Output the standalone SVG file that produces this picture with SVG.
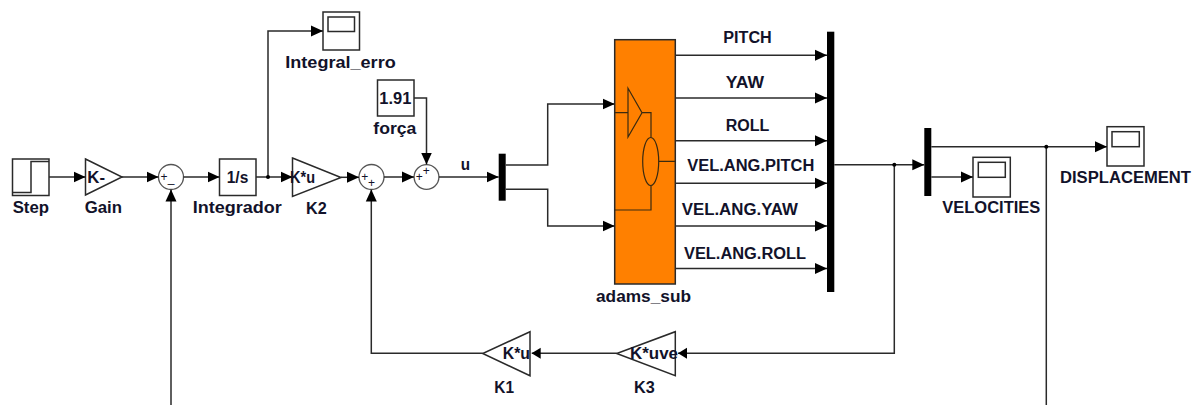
<svg xmlns="http://www.w3.org/2000/svg" width="1197" height="405" viewBox="0 0 1197 405">
<style>
text{font-family:"Liberation Sans",Arial,sans-serif;font-weight:700;font-size:16px;fill:#12122a}
.b{fill:#fff;stroke:#2a2a2a;stroke-width:1.5}
.n{fill:none;stroke:#2a2a2a;stroke-width:1.5}
.bar{fill:#000;stroke:none}
.c{fill:#fff;stroke:#555;stroke-width:1.3}
.w{fill:none;stroke:#2a2a2a;stroke-width:1.5;marker-end:url(#a)}
.wp{fill:none;stroke:#2a2a2a;stroke-width:1.5}
.ws{fill:none;stroke:#2a2a2a;stroke-width:1.5;marker-end:url(#s)}
.o{fill:#ff8000;stroke:#2a2a2a;stroke-width:1.5}
.i{fill:none;stroke:#3a2a10;stroke-width:1.2}
.sg{font-size:12px;font-weight:400;text-anchor:middle}
</style>
<defs>
<marker id="a" markerUnits="userSpaceOnUse" markerWidth="12" markerHeight="12" refX="12" refY="6" orient="auto"><path d="M0 .5L12 6L0 11.5Z" fill="#000"/></marker>
<marker id="s" markerUnits="userSpaceOnUse" markerWidth="9" markerHeight="12" refX="9" refY="6" orient="auto"><path d="M0 .5L9 6L0 11.5Z" fill="#000"/></marker>
</defs>

<g id="Step"><rect class="b" x="12.5" y="159" width="36.5" height="36.5"/><path class="n" d="M13 192.5H31V161.5H49"/><text x="12.7" y="212.7" textLength="36.3" lengthAdjust="spacingAndGlyphs">Step</text></g>
<g id="Gain"><path class="b" d="M85.5 159L122 177L85.5 195Z"/><text x="87.300" y="182.500" textLength="17.700" lengthAdjust="spacingAndGlyphs">K-</text><text x="84.700" y="212.700" textLength="37.300" lengthAdjust="spacingAndGlyphs">Gain</text></g>
<g id="Sum1"><circle class="c" cx="171" cy="177" r="12.5"/><text class="sg" x="164" y="181">+</text><text class="sg" x="171" y="182">_</text></g>
<g id="Integrador"><rect class="b" x="219.5" y="159" width="36.5" height="36.5"/><text x="226.700" y="182.500" textLength="21.600" lengthAdjust="spacingAndGlyphs">1/s</text><text x="192.700" y="212.700" textLength="89" lengthAdjust="spacingAndGlyphs">Integrador</text></g>
<g id="K2"><path class="b" d="M292.5 158L341 177.5L292.500 196.500Z"/><text x="290" y="182.500" textLength="25" lengthAdjust="spacingAndGlyphs">K*u</text><text x="306" y="214" textLength="20.700" lengthAdjust="spacingAndGlyphs">K2</text></g>
<g id="Integral_erro"><rect class="b" x="323" y="12" width="36.5" height="38"/><rect class="b" x="328" y="17" width="26.5" height="14.5"/><text x="285.300" y="68" textLength="110.400" lengthAdjust="spacingAndGlyphs">Integral_erro</text></g>
<g id="Sum2"><circle class="c" cx="371.5" cy="177" r="12.5"/><text class="sg" x="364.800" y="181.300">+</text><text class="sg" x="371.500" y="187.300">+</text></g>
<g id="forca"><rect class="b" x="377.5" y="80" width="36.5" height="36"/><text x="379.300" y="103.800" textLength="32" lengthAdjust="spacingAndGlyphs">1.91</text><text x="373.300" y="134" textLength="43" lengthAdjust="spacingAndGlyphs">força</text></g>
<g id="Sum3"><circle class="c" cx="426.5" cy="177" r="12.4"/><text class="sg" x="419.300" y="181.300">+</text><text class="sg" x="426.300" y="174.800">+</text></g>
<g id="u_label"><text x="460.700" y="170" textLength="9.300" lengthAdjust="spacingAndGlyphs">u</text></g>
<g id="Mux1"><rect class="bar" x="498.7" y="153.7" width="7" height="47"/></g>
<g id="adams_sub"><rect class="o" x="614.7" y="39.7" width="60.6" height="244.3"/>
<path class="i" d="M614.7 112.7H628M628 88.3L642 112.7L628 137ZM642 112.7H651V137.5M658.7 161.3H675.3M651 185.5V210H614.7"/>
<ellipse class="i" cx="650.7" cy="161.5" rx="8" ry="24"/>
<text x="596" y="301.700" textLength="95" lengthAdjust="spacingAndGlyphs">adams_sub</text></g>
<g id="Mux2"><rect class="bar" x="827" y="31.7" width="7.3" height="260.3"/></g>
<g id="Mux3"><rect class="bar" x="924.3" y="128" width="7" height="68"/></g>
<g id="VELOCITIES"><rect class="b" x="973" y="157.3" width="37.3" height="39.7"/><rect class="b" x="978.3" y="162.3" width="27" height="15"/><text x="942.300" y="213.300" textLength="98" lengthAdjust="spacingAndGlyphs">VELOCITIES</text></g>
<g id="DISPLACEMENT"><rect class="b" x="1107" y="126.7" width="37" height="39.3"/><rect class="b" x="1112" y="131.7" width="27.3" height="15"/><text x="1060" y="182.700" textLength="131" lengthAdjust="spacingAndGlyphs">DISPLACEMENT</text></g>
<g id="K1"><path class="b" d="M530 331.7V375.7L482.7 353.5Z"/><text x="502.700" y="358.800" textLength="27.300" lengthAdjust="spacingAndGlyphs">K*u</text><text x="494.300" y="392.700" textLength="19.700" lengthAdjust="spacingAndGlyphs">K1</text></g>
<g id="K3"><path class="b" d="M675.3 331.7V375.7L616.7 353.5Z"/><text x="630" y="358.800" textLength="48" lengthAdjust="spacingAndGlyphs">K*uve</text><text x="634" y="392.700" textLength="20.700" lengthAdjust="spacingAndGlyphs">K3</text></g>

<g id="labels"><text x="723.300" y="42.700" textLength="48.400" lengthAdjust="spacingAndGlyphs">PITCH</text><text x="725.700" y="88" textLength="38.300" lengthAdjust="spacingAndGlyphs">YAW</text><text x="725.700" y="130.700" textLength="43.600" lengthAdjust="spacingAndGlyphs">ROLL</text><text x="687.300" y="171.300" textLength="127" lengthAdjust="spacingAndGlyphs">VEL.ANG.PITCH</text><text x="681.700" y="215" textLength="116.300" lengthAdjust="spacingAndGlyphs">VEL.ANG.YAW</text><text x="684" y="258.700" textLength="122" lengthAdjust="spacingAndGlyphs">VEL.ANG.ROLL</text></g>

<g id="connectors">
<path class="w" d="M49 177H85.5"/>
<path class="w" d="M122 177H158.5"/>
<path class="w" d="M183.500 177H219.500"/>
<path class="w" d="M256 177H292.500"/>
<path class="w" d="M341 177.300H359"/>
<path class="w" d="M384 177H414"/>
<path class="w" d="M439 177H498.700"/>
<path class="w" d="M268 177V31H323"/>
<path class="w" d="M414 98H426.500V164.500"/>
<path class="w" d="M505.700 165H547.700V104H614.700"/>
<path class="w" d="M505.700 189.300H547.700V226H614.700"/>
<path class="w" d="M675.300 55.300H827"/>
<path class="w" d="M675.300 98H827"/>
<path class="w" d="M675.300 140.700H827"/>
<path class="w" d="M675.300 183.300H827"/>
<path class="w" d="M675.300 226H827"/>
<path class="w" d="M675.300 268.500H827"/>
<path class="w" d="M834.300 164.800H924.300"/>
<path class="w" d="M931.300 177H973"/>
<path class="w" d="M931.300 146.700H1107"/>
<path class="ws" d="M894.300 164.800V353.300H678"/>
<path class="ws" d="M616.700 353.300H531.700"/>
<path class="w" d="M482.700 353.300H371.300V189.500"/>
<path class="w" d="M171 405V189.500"/>
<path class="wp" d="M1046.300 146.700V405"/>
<circle cx="268" cy="177" r="2"/>
<circle cx="894.300" cy="164.800" r="2"/>
<circle cx="1046.300" cy="146.700" r="2"/>
</g>
</svg>
